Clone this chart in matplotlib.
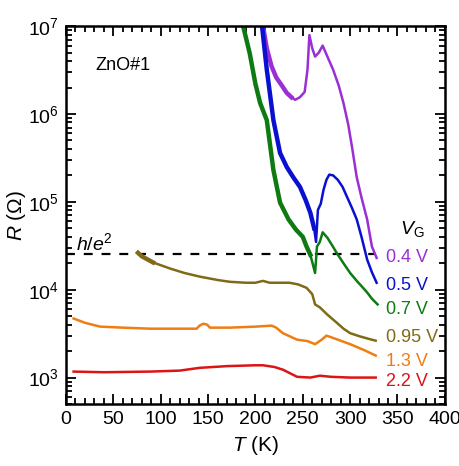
import numpy as np
import matplotlib
matplotlib.use('Agg')
import matplotlib.pyplot as plt
from matplotlib.ticker import LogLocator, MultipleLocator, NullFormatter

plt.rcParams['font.family'] = ['Liberation Sans', 'DejaVu Sans']
plt.rcParams['mathtext.fontset'] = 'custom'
plt.rcParams['mathtext.rm'] = 'Liberation Sans'
plt.rcParams['mathtext.it'] = 'Liberation Sans:italic'

# data: T in K, R in Ohm
T_04 = [208, 212, 217, 222, 228, 233, 238, 242, 247, 252, 255, 257, 260, 263, 267, 271, 276,
        282, 288, 293, 298, 302, 307, 312, 318, 323, 328]
R_04 = [1.0e7, 5.6e6, 3.5e6, 2.6e6, 2.1e6, 1.74e6, 1.55e6, 1.45e6, 1.55e6, 1.78e6, 3.2e6, 7.9e6,
        5.6e6, 4.5e6, 5.0e6, 6.0e6, 4.5e6, 3.2e6, 2.1e6, 1.33e6, 7.6e5, 4.2e5, 1.9e5, 1.12e5,
        6.3e4, 3.1e4, 2.3e4]

T_05 = [207, 212, 219, 226, 233, 240, 247, 253, 258, 262, 264, 266, 269, 272, 275, 278, 282,
        287, 292, 297, 302, 307, 312, 318, 323, 328]
R_05 = [1.0e7, 3.2e6, 8.5e5, 3.6e5, 2.5e5, 1.9e5, 1.48e5, 1.05e5, 7.5e4, 5.0e4, 3.5e4, 8.1e4,
        9.5e4, 1.38e5, 1.78e5, 2.04e5, 2.0e5, 1.78e5, 1.48e5, 1.12e5, 8.5e4, 6.3e4, 4.0e4,
        2.2e4, 1.58e4, 1.2e4]

T_07 = [187, 194, 200, 205, 212, 219, 226, 235, 243, 250, 254, 258, 263, 265, 268, 271, 276,
        281, 286, 293, 300, 307, 313, 318, 323, 329]
R_07 = [1.0e7, 4.9e6, 2.2e6, 1.33e6, 8.5e5, 2.3e5, 9.8e4, 6.3e4, 4.8e4, 4.0e4, 3.1e4, 2.5e4,
        1.55e4, 3.1e4, 3.5e4, 4.5e4, 3.9e4, 3.2e4, 2.6e4, 2.0e4, 1.55e4, 1.26e4, 1.07e4,
        9.3e3, 7.9e3, 6.8e3]

T_095 = [76, 80, 92, 110, 125, 141, 160, 173, 190, 200, 208, 215, 225, 236, 245, 254, 260,
         263, 268, 276, 286, 293, 300, 310, 320, 327]
R_095 = [2.63e4, 2.4e4, 2.04e4, 1.74e4, 1.55e4, 1.41e4, 1.29e4, 1.23e4, 1.2e4, 1.2e4, 1.26e4,
         1.2e4, 1.2e4, 1.2e4, 1.15e4, 1.05e4, 8.9e3, 6.8e3, 6.3e3, 5.2e3, 4.2e3, 3.6e3, 3.2e3,
         2.95e3, 2.75e3, 2.63e3]

T_13 = [8, 20, 36, 60, 89, 120, 138, 141, 145, 149, 152, 173, 200, 217, 222, 229, 244, 255,
        263, 270, 275, 277, 285, 300, 315, 327]
R_13 = [4.7e3, 4.2e3, 3.8e3, 3.7e3, 3.6e3, 3.6e3, 3.6e3, 3.9e3, 4.1e3, 4.0e3, 3.7e3, 3.7e3,
        3.8e3, 3.9e3, 3.7e3, 3.2e3, 2.7e3, 2.6e3, 2.4e3, 2.7e3, 3.0e3, 2.95e3, 2.75e3, 2.4e3,
        2.05e3, 1.78e3]

T_22 = [8, 40, 89, 120, 141, 170, 200, 208, 220, 229, 238, 244, 258, 268, 280, 300, 327]
R_22 = [1.17e3, 1.15e3, 1.17e3, 1.2e3, 1.29e3, 1.35e3, 1.38e3, 1.38e3, 1.32e3, 1.23e3, 1.1e3,
        1.02e3, 1.0e3, 1.05e3, 1.02e3, 1.0e3, 1.0e3]

h_e2 = 25813.0

series = [
    (T_04, R_04, '0.4 V', '#9a2fd6', 238),
    (T_05, R_05, '0.5 V', '#0a10d0', 262),
    (T_07, R_07, '0.7 V', '#0e7a12', 262),
    (T_095, R_095, '0.95 V', '#7f6b16', 95),
    (T_13, R_13, '1.3 V', '#ee7d14', 0),
    (T_22, R_22, '2.2 V', '#dc1414', 0),
]
label_y = [258, 285, 309, 338, 362, 382]

fig = plt.figure(figsize=(4.6, 4.66), dpi=100)
ax = fig.add_axes([0.1435, 0.133, 0.8235, 0.811])

ax.plot([0, 325], [h_e2, h_e2], color='black', lw=1.6, dashes=(4, 4))

for (T, R, lab, col, noisy_end), ly in zip(series, label_y):
    T = np.array(T)
    R = np.array(R)
    ax.plot(T, R, color=col, lw=1.8, solid_joinstyle='round')
    if noisy_end:
        # noisy stretch shows up as a thicker band
        m = T <= noisy_end
        ax.plot(T[m], R[m], color=col, lw=3.2)
    fig.text(386 / 460, 1 - ly / 466, lab, color=col, fontsize=13, va='center', ha='left')

fig.text(400 / 460, 1 - 229 / 466, '$V_\\mathrm{G}$', fontsize=14, va='center', ha='left')
fig.text(95 / 460, 1 - 66 / 466, 'ZnO#1', fontsize=13, va='center', ha='left')
fig.text(76 / 460, 1 - 243 / 466, '$h/e^2$', fontsize=14, va='center', ha='left')

ax.set_yscale('log')
ax.set_xlim(0, 400)
ax.set_ylim(500, 1e7)
ax.xaxis.set_major_locator(MultipleLocator(50))
ax.xaxis.set_minor_locator(MultipleLocator(10))
ax.yaxis.set_major_locator(LogLocator(base=10, numticks=10))
ax.yaxis.set_minor_locator(LogLocator(base=10, subs=np.arange(2, 10), numticks=20))
ax.yaxis.set_minor_formatter(NullFormatter())

ax.tick_params(which='both', direction='in', top=True, right=True, width=1.3, labelsize=14)
ax.tick_params(which='major', length=7, pad=5)
ax.tick_params(which='minor', length=4)
for s in ax.spines.values():
    s.set_linewidth(1.8)

ax.set_xlabel('$T$ (K)', fontsize=15, labelpad=4)
ax.set_ylabel('$R$ ($\\Omega$)', fontsize=15)
ax.yaxis.set_label_coords(-0.10, 0.5)

fig.savefig('out.png', dpi=100)
